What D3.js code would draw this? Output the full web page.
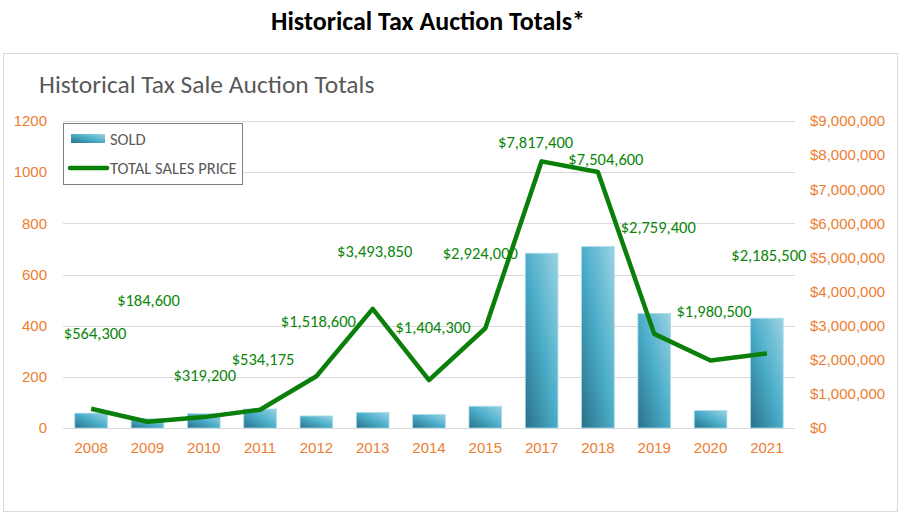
<!DOCTYPE html>
<html><head><meta charset="utf-8">
<script src="https://cdn.jsdelivr.net/npm/d3@7"></script>
<style>
html,body{margin:0;padding:0;background:#fff;}
svg{display:block;font-family:Carlito, Lato, "Open Sans", sans-serif;}
</style></head>
<body>
<svg id="chart" width="900" height="528"></svg>
<script>
// ---- data ----
const years = ["2008","2009","2010","2011","2012","2013","2014","2015","2017","2018","2019","2020","2021"];
const sold = [58, 36, 56, 74, 47, 61, 53, 85, 683, 709, 448, 68, 429];
const totalSales = [564300, 184600, 319200, 534175, 1518600, 3493850, 1404300, 2924000, 7817400, 7504600, 2759400, 1980500, 2185500];
const leftTicks = [0, 200, 400, 600, 800, 1000, 1200];
const rightTicks = [0,1000000,2000000,3000000,4000000,5000000,6000000,7000000,8000000,9000000];
const seriesNames = ["SOLD", "TOTAL SALES PRICE"];

// ---- layout (label nudges, in px, like manually moved labels) ----
const labelDx = [4, 1, 1, 3, 2, 2, 4, -5, -6, 8, 4, 3.5, 2];
const labelDy = [-76, -121, -42, -51, -55, -58, -53, -75, -19, -13, -107, -49, -98];

const svg = d3.select("#chart");
const orange = "#ed7d31", green = "#0a7f0a", grid = "#d9d9d9";
const L = 63, R = 795, T = 121, B = 428;

// outer titles / frame
svg.append("text").attr("x", 428).attr("y", 30).attr("text-anchor", "middle")
  .attr("font-weight", "bold").attr("font-size", 26).attr("fill", "#000")
  .text("Historical Tax Auction Totals*");
svg.append("rect").attr("x", 3.5).attr("y", 53.5).attr("width", 894).attr("height", 458)
  .attr("fill", "#fff").attr("stroke", grid);
svg.append("text").attr("x", 39).attr("y", 93).attr("font-size", 25.5).attr("fill", "#595959")
  .text("Historical Tax Sale Auction Totals");

const x = d3.scaleBand().domain(years).range([L, R]).paddingInner(0.42).paddingOuter(0.21);
const yL = d3.scaleLinear().domain([0, 1200]).range([B, T]);
const yR = d3.scaleLinear().domain([0, 9000000]).range([B, T]);

// gradient
const defs = svg.append("defs");
const g = defs.append("linearGradient").attr("id", "barGrad")
  .attr("x1", 0).attr("y1", 1).attr("x2", 1).attr("y2", 0);
g.append("stop").attr("offset", "0%").attr("stop-color", "#2a7189");
g.append("stop").attr("offset", "50%").attr("stop-color", "#4badc9");
g.append("stop").attr("offset", "100%").attr("stop-color", "#9ad3e3");

// gridlines
svg.append("g").selectAll("line").data(leftTicks).join("line")
  .attr("x1", L).attr("x2", R).attr("y1", d => Math.round(yL(d)) + 0.5).attr("y2", d => Math.round(yL(d)) + 0.5)
  .attr("stroke", grid).attr("stroke-width", 1);

// left axis
const axL = svg.append("g").attr("transform", `translate(${L - 16},0)`)
  .call(d3.axisLeft(yL).tickValues(leftTicks).tickSize(0).tickPadding(0).tickFormat(d3.format("d")));
axL.select(".domain").remove();
axL.selectAll("text").attr("fill", orange).attr("font-size", 15).attr("font-family", null);

// right axis
const axR = svg.append("g").attr("transform", `translate(810,0)`)
  .call(d3.axisRight(yR).tickValues(rightTicks).tickSize(0).tickPadding(0).tickFormat(d => "$" + d3.format(",")(d)));
axR.select(".domain").remove();
axR.selectAll("text").attr("fill", orange).attr("font-size", 15).attr("font-family", null);

// x axis
const axX = svg.append("g").attr("transform", `translate(0,${B})`)
  .call(d3.axisBottom(x).tickSize(0).tickPadding(14));
axX.select(".domain").remove();
axX.selectAll("text").attr("fill", orange).attr("font-size", 15).attr("font-family", null);

// bars
svg.append("g").selectAll("rect").data(years).join("rect")
  .attr("x", d => x(d)).attr("width", x.bandwidth())
  .attr("y", (d, i) => yL(sold[i])).attr("height", (d, i) => B - yL(sold[i]))
  .attr("fill", "url(#barGrad)").attr("stroke", "#a9dbe8").attr("stroke-width", 0.8);

// line
const line = d3.line().x((d, i) => x(years[i]) + x.bandwidth() / 2).y(d => yR(d));
svg.append("path").datum(totalSales).attr("d", line)
  .attr("fill", "none").attr("stroke", green).attr("stroke-width", 4.5).attr("stroke-linejoin", "round");

// data labels
const fmt = d => "$" + d3.format(",")(d);
svg.append("g").selectAll("text").data(totalSales).join("text")
  .attr("x", (d, i) => x(years[i]) + x.bandwidth() / 2 + labelDx[i])
  .attr("y", (d, i) => yR(d) + labelDy[i])
  .attr("dy", "0.35em").attr("text-anchor", "middle")
  .attr("font-size", 16.5).attr("fill", "#0a860a").text(fmt);

// legend
const lg = svg.append("g");
lg.append("rect").attr("x", 63.5).attr("y", 123.5).attr("width", 179).attr("height", 61)
  .attr("fill", "#fff").attr("stroke", "#7f7f7f");
lg.append("rect").attr("x", 71).attr("y", 134).attr("width", 34).attr("height", 9).attr("fill", "url(#barGrad)");
lg.append("line").attr("x1", 70).attr("x2", 107).attr("y1", 168).attr("y2", 168)
  .attr("stroke", green).attr("stroke-width", 4.5).attr("stroke-linecap", "round");
lg.selectAll("text.lt").data(seriesNames).join("text").attr("class", "lt")
  .attr("x", 110).attr("y", (d, i) => i === 0 ? 139 : 168).attr("dy", "0.35em")
  .attr("font-size", 16.5).attr("fill", "#595959").text(d => d);
</script>
</body></html>
